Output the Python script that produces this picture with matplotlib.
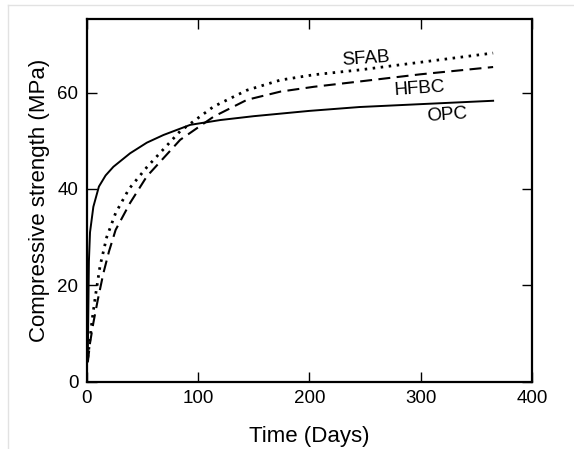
import matplotlib
matplotlib.use("Agg")
import matplotlib.pyplot as plt
from matplotlib.lines import Line2D

plt.rcParams['font.family'] = ['Liberation Sans', 'DejaVu Sans']
plt.rcParams['lines.scale_dashes'] = False

opc_t = [1, 2, 3, 6, 11, 17, 24, 39, 54, 69, 93, 120, 150, 200, 245, 300, 365]
opc_y = [5, 25, 31, 36.3, 40.5, 42.8, 44.6, 47.4, 49.6, 51.2, 53.3, 54.3, 55.1, 56.2, 57.0, 57.6, 58.3]

sfab_t = [1, 3, 5, 8, 12, 18, 26, 38, 54, 84, 114, 144, 174, 204, 245, 300, 365]
sfab_y = [5, 9, 13, 18, 24, 30, 35, 40, 44.5, 52.0, 57.1, 60.5, 62.6, 63.7, 64.7, 66.3, 68.2]

hfbc_t = [1, 3, 6, 10, 15, 20, 26, 39, 54, 84, 114, 144, 174, 204, 245, 300, 365]
hfbc_y = [4, 8, 12.2, 17, 22.5, 27, 31.5, 37.1, 42.6, 50.2, 55, 58.5, 60.2, 61.2, 62.3, 63.8, 65.3]

labels = ["SFAB", "HFBC", "OPC"]
label_x = [251, 299, 324]
label_y = [67.1, 60.9, 55.4]

fig = plt.figure(figsize=(5.74, 4.49), dpi=100)
ax = fig.add_axes([0.151, 0.150, 0.776, 0.808])

ax.plot(opc_t, opc_y, color='black', lw=1.4, linestyle='-')
ax.plot(sfab_t, sfab_y, color='black', lw=2.0, linestyle=(0, (1.8, 4.0)))
ax.plot(hfbc_t, hfbc_y, color='black', lw=1.5, linestyle=(0, (8.6, 4.6)))

for s, x, y in zip(labels, label_x, label_y):
    ax.text(x, y, s, ha='center', va='center', fontsize=13.5, rotation=4)

ax.set_xlim(0, 400)
ax.set_ylim(0, 75.3)
ax.set_xticks([0, 100, 200, 300, 400])
ax.set_yticks([0, 20, 40, 60])
ax.tick_params(direction='in', length=7, width=1.0, top=True, right=True,
               labelsize=13.5, pad=6, colors='black')
for sp in ax.spines.values():
    sp.set_linewidth(1.6)

ax.set_xlabel("Time (Days)", fontsize=16, labelpad=14)
ax.set_ylabel("Compressive strength (MPa)", fontsize=16, labelpad=5)

fig.add_artist(Line2D([8/574, 1], [1-5/449, 1-5/449], transform=fig.transFigure,
                      color='#e2e2e2', lw=1))
fig.add_artist(Line2D([8/574, 8/574], [0, 1-5/449], transform=fig.transFigure,
                      color='#e2e2e2', lw=1))

fig.savefig("out.png", dpi=100)
